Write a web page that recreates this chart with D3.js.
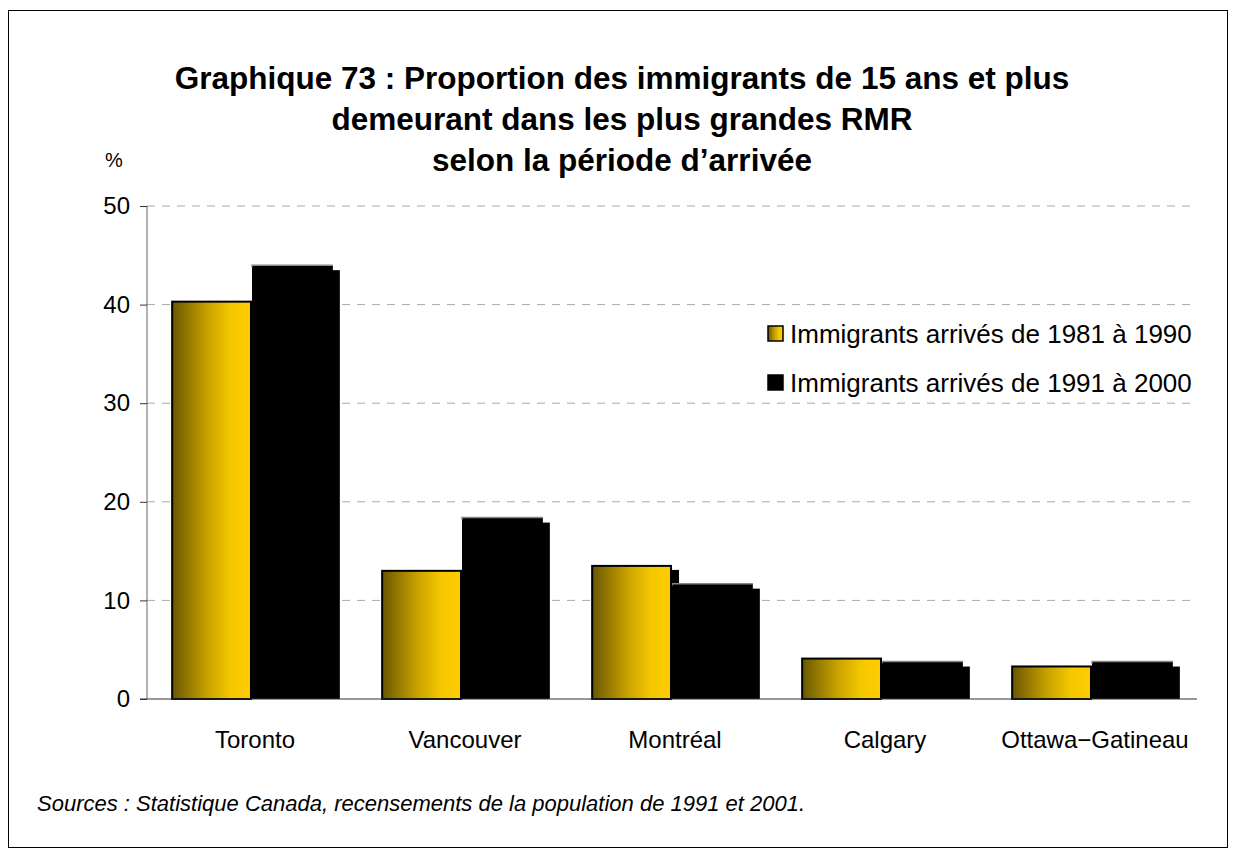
<!DOCTYPE html>
<html><head><meta charset="utf-8">
<script src="https://cdn.jsdelivr.net/npm/d3@7"></script>
<style>body{margin:0;background:#fff}svg{display:block}text{font-family:"Liberation Sans",Arial,sans-serif}</style>
</head><body><svg id="c" width="1236" height="849"></svg>
<script>
const categories = ["Toronto","Vancouver","Montréal","Calgary","Ottawa−Gatineau"];
const series1981 = [40.4, 13.1, 13.6, 4.2, 3.4];
const series1991 = [44.0, 18.4, 11.7, 3.8, 3.8];
const seriesNames = ["Immigrants arrivés de 1981 à 1990","Immigrants arrivés de 1991 à 2000"];
const yTicks = [0,10,20,30,40,50];
const titleLines = ["Graphique 73 : Proportion des immigrants de 15 ans et plus","demeurant dans les plus grandes RMR","selon la période d’arrivée"];

(function(){
const svg = d3.select("#c");
const defs = svg.append("defs");
const g = defs.append("linearGradient").attr("id","gold").attr("x1","0").attr("x2","1").attr("y1","0").attr("y2","0");
g.append("stop").attr("offset","0").attr("stop-color","#6a5700");
g.append("stop").attr("offset","0.45").attr("stop-color","#c9a200");
g.append("stop").attr("offset","0.75").attr("stop-color","#f6c800");
g.append("stop").attr("offset","1").attr("stop-color","#ffcc00");

svg.append("rect").attr("x",8.5).attr("y",10.5).attr("width",1219).attr("height",837).attr("fill","none").attr("stroke","#000").attr("stroke-width",1);

const pLeft=147, pRight=1197, pTop=206, pBottom=699;
const x = d3.scaleBand().domain(categories).range([pLeft,pRight]).paddingInner(0.23).paddingOuter(0.115);
const xs = d3.scaleBand().domain([0,1]).range([0,x.bandwidth()]);
const y = d3.scaleLinear().domain([0,50]).range([pBottom,pTop]);

svg.append("g").selectAll("text").data(titleLines).join("text")
  .attr("x",622).attr("y",(d,i)=>89+i*41).attr("text-anchor","middle")
  .attr("font-size",31.5).attr("font-weight","bold").text(d=>d);
svg.append("text").attr("x",114).attr("y",167).attr("text-anchor","middle").attr("font-size",20).text("%");

svg.append("g").selectAll("line").data(yTicks.filter(d=>d>0)).join("line")
  .attr("x1",pLeft).attr("x2",pRight).attr("y1",d=>y(d)).attr("y2",d=>y(d))
  .attr("stroke","#aaa").attr("stroke-dasharray","8,7").attr("stroke-width",1);

const ya = svg.append("g").attr("transform",`translate(${pLeft},0)`)
  .call(d3.axisLeft(y).tickValues(yTicks).tickSize(7).tickPadding(10));
ya.select(".domain").attr("stroke","#666").attr("d",`M0,${pTop}V${pBottom}`);
ya.selectAll(".tick line").attr("stroke","#333");
ya.selectAll(".tick text").attr("font-size",24).attr("font-family","Liberation Sans, Arial, sans-serif").attr("fill","#000");

const data = categories.map((c,i)=>({c, v:[series1981[i],series1991[i]]}));
const bw = xs.bandwidth();
const sx=7, sy=5;
const grp = svg.append("g").selectAll("g").data(data).join("g").attr("transform",d=>`translate(${x(d.c)},0)`);
grp.selectAll("rect.sh").data(d=>d.v.map((v,k)=>({v,k}))).join("rect").attr("class","sh")
  .attr("x",d=>xs(d.k)+sx).attr("y",d=>y(d.v)+sy).attr("width",bw).attr("height",d=>pBottom-y(d.v)-sy).attr("fill","#000");
grp.append("rect").attr("x",xs(1)).attr("y",d=>y(d.v[1])).attr("width",bw).attr("height",d=>pBottom-y(d.v[1])).attr("fill","#000");
grp.append("path").attr("d",d=>`M${xs(1)},${y(d.v[1])+2}V${y(d.v[1])}H${xs(1)+bw}`).attr("stroke","#888").attr("stroke-width",1.5).attr("fill","none");
grp.append("rect").attr("x",xs(0)+1).attr("y",d=>y(d.v[0])+1).attr("width",bw-2).attr("height",d=>pBottom-y(d.v[0])-1)
  .attr("fill","url(#gold)").attr("stroke","#000").attr("stroke-width",2);

svg.append("line").attr("x1",pLeft-7).attr("x2",pRight).attr("y1",pBottom).attr("y2",pBottom).attr("stroke","#333");

svg.append("g").selectAll("text").data(categories).join("text")
  .attr("x",d=>x(d)+x.bandwidth()/2+3).attr("y",748).attr("text-anchor","middle").attr("font-size",24).text(d=>d);

const lg = svg.append("g").selectAll("g").data(seriesNames).join("g").attr("transform",(d,i)=>`translate(768,${326+i*49})`);
lg.append("rect").attr("width",15).attr("height",15).attr("fill",(d,i)=>i?"#000":"url(#gold)").attr("stroke","#000").attr("stroke-width",1.5);
lg.append("text").attr("x",22).attr("y",17).attr("font-size",26).text(d=>d);

svg.append("text").attr("x",37).attr("y",811).attr("font-size",22).attr("font-style","italic")
  .text("Sources : Statistique Canada, recensements de la population de 1991 et 2001.");
})();
</script></body></html>
